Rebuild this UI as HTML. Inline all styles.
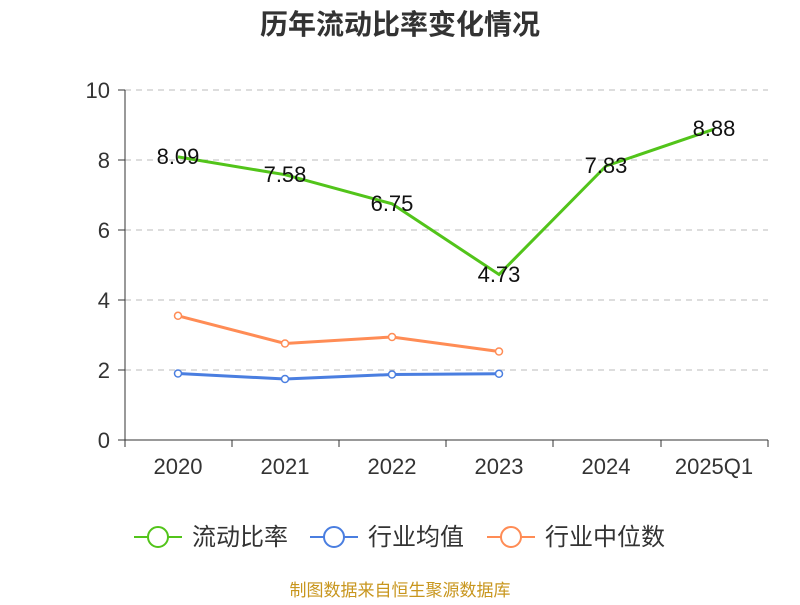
<!DOCTYPE html>
<html><head><meta charset="utf-8"><style>body{margin:0;background:#fff}svg text{font-family:"Liberation Sans","Noto Sans CJK SC",sans-serif}</style></head><body>
<svg width="800" height="600" xmlns="http://www.w3.org/2000/svg">
<text x="400" y="34" font-size="28" font-weight="bold" text-anchor="middle" fill="#333">历年流动比率变化情况</text>
<g stroke="#bbb" stroke-dasharray="6,5" stroke-width="1">
<line x1="125" y1="90" x2="768" y2="90"/><line x1="125" y1="160" x2="768" y2="160"/><line x1="125" y1="230" x2="768" y2="230"/><line x1="125" y1="300" x2="768" y2="300"/><line x1="125" y1="370" x2="768" y2="370"/></g>
<g stroke="#333" stroke-width="1">
<line x1="125" y1="90" x2="125" y2="440"/><line x1="125" y1="440" x2="768" y2="440"/>
<line x1="118" y1="90" x2="125" y2="90"/><line x1="118" y1="160" x2="125" y2="160"/><line x1="118" y1="230" x2="125" y2="230"/><line x1="118" y1="300" x2="125" y2="300"/><line x1="118" y1="370" x2="125" y2="370"/><line x1="118" y1="440" x2="125" y2="440"/>
<line x1="125" y1="440" x2="125" y2="447"/><line x1="232" y1="440" x2="232" y2="447"/><line x1="339" y1="440" x2="339" y2="447"/><line x1="446" y1="440" x2="446" y2="447"/><line x1="553" y1="440" x2="553" y2="447"/><line x1="661" y1="440" x2="661" y2="447"/><line x1="768" y1="440" x2="768" y2="447"/></g>
<g font-size="22" fill="#333" text-anchor="end">
<text x="110" y="98">10</text><text x="110" y="168">8</text><text x="110" y="238">6</text><text x="110" y="308">4</text><text x="110" y="378">2</text><text x="110" y="448">0</text></g>
<g font-size="22" fill="#333" text-anchor="middle">
<text x="178" y="474">2020</text><text x="285" y="474">2021</text><text x="392" y="474">2022</text><text x="499" y="474">2023</text><text x="606" y="474">2024</text><text x="714" y="474">2025Q1</text></g>
<polyline fill="none" stroke="#52c41a" stroke-width="3" points="178,156.9 285,174.7 392,203.8 499,274.5 606,166 714,129.2"/>
<polyline fill="none" stroke="#4a7ee0" stroke-width="3" points="178,373.5 285,379 392,374.5 499,373.8"/>
<polyline fill="none" stroke="#ff8c55" stroke-width="3" points="178,315.8 285,343.5 392,337 499,351.5"/>
<g fill="#fff" stroke="#4a7ee0" stroke-width="1.5"><circle cx="178" cy="373.5" r="3.5"/><circle cx="285" cy="379" r="3.5"/><circle cx="392" cy="374.5" r="3.5"/><circle cx="499" cy="373.8" r="3.5"/></g>
<g fill="#fff" stroke="#ff8c55" stroke-width="1.5"><circle cx="178" cy="315.8" r="3.5"/><circle cx="285" cy="343.5" r="3.5"/><circle cx="392" cy="337" r="3.5"/><circle cx="499" cy="351.5" r="3.5"/></g>
<g font-size="22" fill="#111" text-anchor="middle">
<text x="178" y="164">8.09</text><text x="285" y="182">7.58</text><text x="392" y="211">6.75</text><text x="499" y="282">4.73</text><text x="606" y="173">7.83</text><text x="714" y="136">8.88</text></g>
<g stroke-width="2" fill="#fff">
<line x1="134" y1="537" x2="182" y2="537" stroke="#52c41a"/><circle cx="158" cy="537" r="10" stroke="#52c41a"/>
<line x1="310" y1="537" x2="358" y2="537" stroke="#4a7ee0"/><circle cx="334" cy="537" r="10" stroke="#4a7ee0"/>
<line x1="487" y1="537" x2="535" y2="537" stroke="#ff8c55"/><circle cx="511" cy="537" r="10" stroke="#ff8c55"/></g>
<g font-size="24" fill="#333"><text x="192" y="545">流动比率</text><text x="368" y="545">行业均值</text><text x="545" y="545">行业中位数</text></g>
<text x="400" y="596" font-size="17" fill="#c8961e" text-anchor="middle">制图数据来自恒生聚源数据库</text>
</svg></body></html>
